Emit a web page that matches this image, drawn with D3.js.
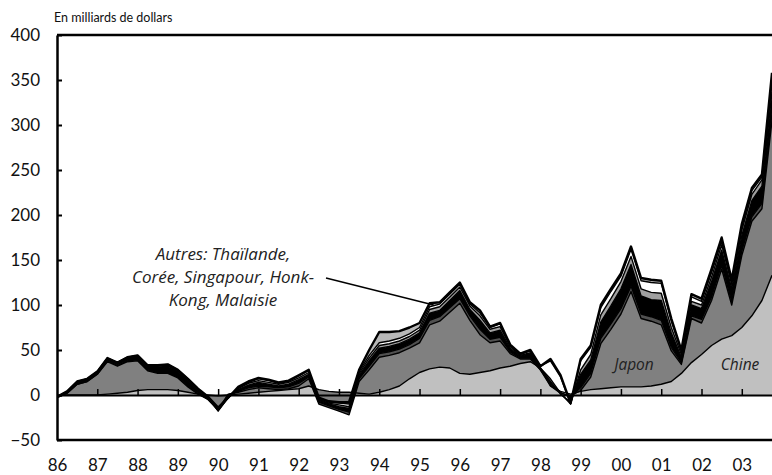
<!DOCTYPE html>
<html>
<head>
<meta charset="utf-8">
<script src="https://cdn.jsdelivr.net/npm/d3@7"></script>
<style>
  body { margin: 0; background: #fff; }
  svg { display: block; font-family: Lato, "DejaVu Sans", sans-serif; }
</style>
</head>
<body>
<script>
// quarterly observations, 1986 Q1 .. 2003 Q4 (milliards de dollars)
const dates = d3.range(0, 72).map((i) => 1986 + i * 0.25);

const chine = [
  -1, 0, 0, 0, 0, 1, 2, 3, 5, 6, 6, 6, 5, 3, 1, 0,
  -1, 0, 1, 2, 3, 4, 5, 6, 7, 10, 6, 4, 3, 3, 2, 1,
  3, 6, 10, 18, 25, 29, 31, 30, 24, 23, 25, 27, 30, 32, 35, 37,
  30, 10, 4, 1, 4, 6, 7, 8, 9, 9, 9, 10, 12, 15, 24, 36,
  45, 55, 62, 66, 75, 88, 105, 133
];
const japon = [
  -2, 2, 12, 15, 23, 36, 30, 34, 33, 21, 18, 18, 14, 6, 0, -5,
  -15, 1, 2, 4, 5, 3, 1, 1, 3, 8, -16, -18, -21, -25, 13, 27,
  39, 38, 37, 34, 33, 49, 51, 62, 78, 60, 42, 31, 30, 14, 5, 3,
  -2, 0, -2, -2, 1, 14, 50, 65, 81, 106, 76, 72, 66, 34, 10, 49,
  35, 50, 78, 34, 80, 105, 102, 172
];
const thailande = [
  0, 0, 0, 0, 0, 1, 1, 1, 1, 1, 1, 1, 1, 1, 1, 0,
  -1, -1, 1, 2, 2, 2, 2, 2, 3, 2, 2, 2, 2, 3, 3, 4,
  4, 4, 4, 4, 5, 5, 5, 5, 5, 5, 6, 4, 4, 2, 1, 1,
  0, 2, 1, -1, 3, 4, 6, 6, 6, 6, 5, 5, 5, 4, 2, 3,
  4, 4, 5, 4, 5, 5, 6, 8
];
const coree = [
  1, 1, 2, 2, 2, 2, 2, 3, 3, 3, 6, 7, 6, 6, 3, 2,
  -1, -3, 2, 3, 4, 3, 2, 3, 4, 3, 2, 2, 3, 4, 4, 6,
  6, 6, 6, 6, 6, 8, 7, 8, 9, 7, 10, 7, 8, 4, 2, 5,
  2, 3, -2, -6, 15, 15, 18, 20, 22, 24, 20, 19, 22, 16, 6, 12,
  12, 17, 16, 14, 17, 18, 19, 24
];
const singapour = [
  0, 0, 0, 0, 1, 1, 1, 1, 1, 1, 1, 1, 1, 1, 1, 0,
  1, 0, 1, 2, 2, 2, 2, 2, 2, 2, 1, 1, 2, 2, 2, 3,
  3, 3, 3, 3, 3, 4, 4, 4, 4, 4, 5, 4, 4, 2, 1, 1,
  0, 3, 1, -2, 5, 6, 8, 8, 8, 9, 8, 8, 8, 6, 3, 4,
  4, 5, 6, 5, 6, 7, 7, 10
];
const hongkong = [
  0, 1, 1, 1, 0, 0, 0, 0, 1, 1, 1, 1, 1, 1, 1, 1,
  2, 0, 1, 1, 2, 2, 1, 1, 2, 2, 1, 1, 2, 3, 2, 3,
  3, 3, 3, 3, 3, 3, 3, 3, 3, 2, 3, 2, 3, 1, 1, 2,
  2, 20, 18, 0, 10, 8, 8, 8, 6, 8, 9, 11, 11, 7, 3, 5,
  4, 5, 4, 3, 4, 4, 3, 7
];
const malaisie = [
  0, 0, 0, 0, 0, 0, 0, 0, 0, 0, 0, 0, 0, 0, 0, 0,
  1, 0, 1, 1, 1, 1, 1, 1, 1, 1, 1, 1, 1, 2, 2, 6,
  12, 10, 8, 7, 5, 4, 2, 2, 2, 2, 3, 1, 1, 1, 1, 1,
  0, 2, 2, 1, 2, 2, 3, 3, 3, 3, 3, 3, 3, 3, 2, 3,
  3, 4, 4, 2, 3, 3, 3, 4
];

const keys = ["Chine", "Japon", "Thaïlande", "Corée", "Singapour", "Hong Kong", "Malaisie"];
const fills = ["#c0c0c0", "#808080", "#505050", "#000000", "#a0a0a0", "#ffffff", "#b8b8b8"];
const seriesValues = [chine, japon, thailande, coree, singapour, hongkong, malaisie];

const yTicks = [-50, 0, 50, 100, 150, 200, 250, 300, 350, 400];
const years = d3.range(1986, 2004);
const yearLabels = ["86", "87", "88", "89", "90", "91", "92", "93", "94", "95",
  "96", "97", "98", "99", "00", "01", "02", "03"];

const table = dates.map((t, i) => {
  const row = { t: t };
  keys.forEach((k, j) => { row[k] = seriesValues[j][i]; });
  return row;
});

const w = 772;
const h = 475;
const mLeft = 57, mRight = 772, mTop = 35, mBottom = 440;

const x = d3.scaleLinear().domain([1986, 2003.75]).range([mLeft, mRight]);
const y = d3.scaleLinear().domain([-50, 400]).range([mBottom, mTop]);

const svg = d3.select("body").append("svg")
  .attr("width", w)
  .attr("height", h);

svg.append("defs").append("clipPath").attr("id", "plot")
  .append("rect")
  .attr("x", mLeft).attr("y", mTop)
  .attr("width", mRight - mLeft).attr("height", mBottom - mTop);

// stacked layers (plain cumulative sum, negatives included)
const stack = d3.stack().keys(keys).offset(d3.stackOffsetNone);
const layers = stack(table);

const area = d3.area()
  .x((d) => x(d.data.t))
  .y0((d) => y(d[0]))
  .y1((d) => y(d[1]));

const line = d3.line()
  .x((d) => x(d.data.t))
  .y((d) => y(d[1]));

const g = svg.append("g").attr("clip-path", "url(#plot)");

g.selectAll(".layer")
  .data(layers)
  .enter()
  .append("path")
  .attr("class", "layer")
  .attr("d", area)
  .attr("fill", (d, i) => fills[i])
  .attr("stroke", "none");

g.selectAll(".edge")
  .data(layers)
  .enter()
  .append("path")
  .attr("class", "edge")
  .attr("d", line)
  .attr("fill", "none")
  .attr("stroke", "#000")
  .attr("stroke-width", (d, i) => (i === layers.length - 1 ? 2.4 : 1.4))
  .attr("stroke-linejoin", "round");

// zero line with year ticks pointing up
svg.append("g")
  .attr("transform", "translate(0," + y(0) + ")")
  .call(d3.axisBottom(x).tickValues(years.slice(1)).tickSizeInner(-6).tickSizeOuter(0).tickFormat(""))
  .call((s) => s.select(".domain").attr("stroke-width", 2.2))
  .call((s) => s.selectAll(".tick line").attr("stroke-width", 1.5));

// left axis
svg.append("g")
  .attr("transform", "translate(" + mLeft + ",0)")
  .call(d3.axisLeft(y).tickValues(yTicks).tickSizeInner(-5).tickSizeOuter(0).tickPadding(17))
  .call((s) => s.select(".domain").attr("stroke-width", 2.5))
  .call((s) => s.selectAll(".tick line").attr("stroke-width", 2))
  .call((s) => s.selectAll("text").attr("font-size", 17).attr("font-family", "Lato").attr("fill", "#111"));

// year labels under the frame
svg.append("g")
  .attr("transform", "translate(0," + mBottom + ")")
  .call(d3.axisBottom(x).tickValues(years).tickSize(0).tickPadding(19)
    .tickFormat((d, i) => yearLabels[i]))
  .call((s) => s.select(".domain").remove())
  .call((s) => s.selectAll("text").attr("font-size", 17).attr("font-family", "Lato").attr("fill", "#111"));

// frame lines top and bottom
svg.append("line")
  .attr("x1", mLeft).attr("x2", mRight).attr("y1", mTop).attr("y2", mTop)
  .attr("stroke", "#000").attr("stroke-width", 2.5);
svg.append("line")
  .attr("x1", mLeft).attr("x2", mRight).attr("y1", mBottom).attr("y2", mBottom)
  .attr("stroke", "#000").attr("stroke-width", 2.5);

svg.append("text")
  .attr("x", 54).attr("y", 22)
  .attr("font-size", 12.5)
  .attr("fill", "#111")
  .text("En milliards de dollars");

// annotation
const note = ["Autres: Thaïlande,", "Corée, Singapour, Honk-", "Kong, Malaisie"];
svg.append("g")
  .selectAll("text")
  .data(note)
  .enter()
  .append("text")
  .attr("x", 223)
  .attr("y", (d, i) => 260 + i * 23)
  .attr("text-anchor", "middle")
  .attr("font-family", "'Open Sans'")
  .attr("font-size", 17)
  .attr("font-style", "italic")
  .attr("fill", "#222")
  .text((d) => d);

svg.append("line")
  .attr("x1", 326).attr("y1", 278)
  .attr("x2", x(1995.35)).attr("y2", y(100))
  .attr("stroke", "#000").attr("stroke-width", 1.3);

svg.append("text")
  .attr("x", 634).attr("y", 370)
  .attr("text-anchor", "middle")
  .attr("font-family", "'Open Sans'")
  .attr("font-size", 15.5).attr("font-style", "italic").attr("fill", "#222")
  .text("Japon");

svg.append("text")
  .attr("x", 740).attr("y", 370)
  .attr("text-anchor", "middle")
  .attr("font-family", "'Open Sans'")
  .attr("font-size", 15.5).attr("font-style", "italic").attr("fill", "#222")
  .text("Chine");
</script>
</body>
</html>
